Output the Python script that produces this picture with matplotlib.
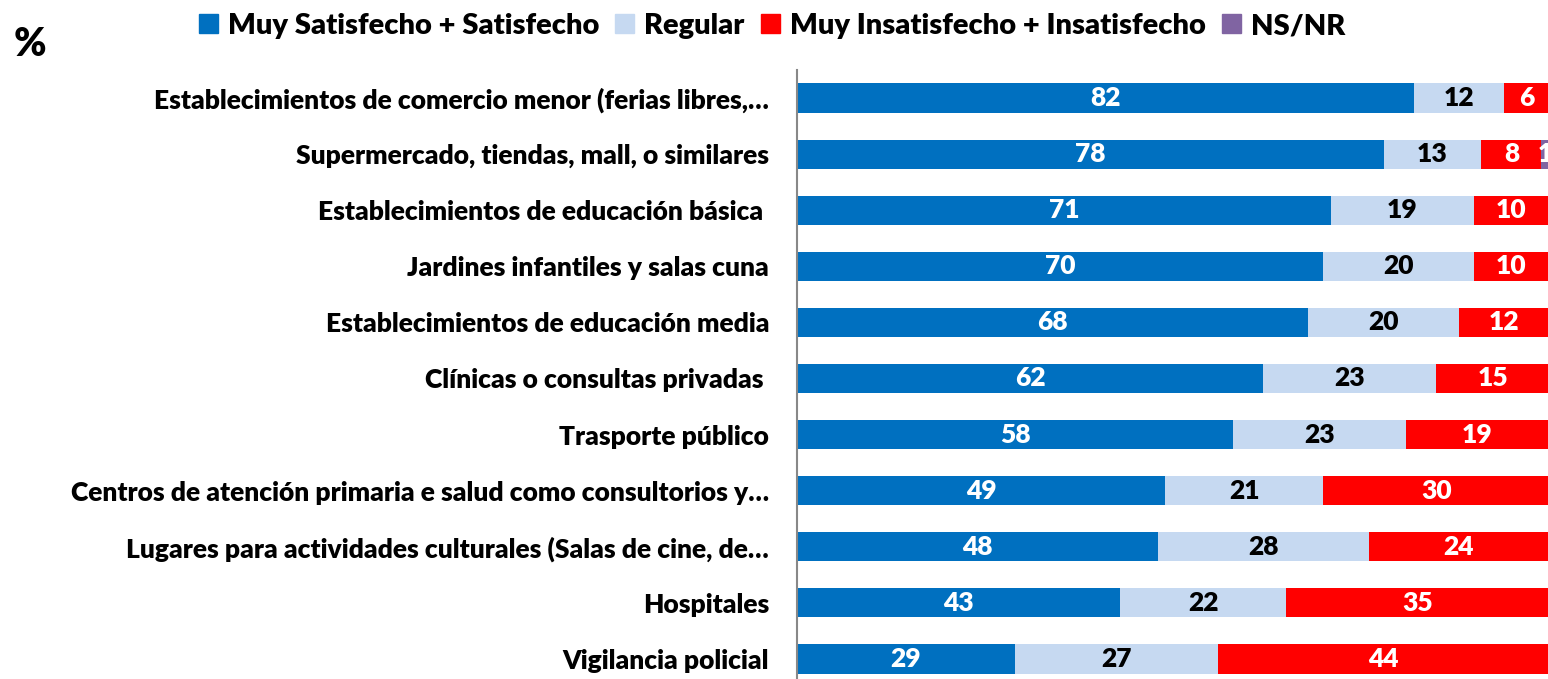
import matplotlib.pyplot as plt
from matplotlib.patches import Patch

plt.rcParams['font.family'] = ['Lato', 'DejaVu Sans']
plt.rcParams['font.weight'] = 'heavy'

categories = [
    'Establecimientos de comercio menor (ferias libres,…',
    'Supermercado, tiendas, mall, o similares',
    'Establecimientos de educación básica ',
    'Jardines infantiles y salas cuna',
    'Establecimientos de educación media',
    'Clínicas o consultas privadas ',
    'Trasporte público',
    'Centros de atención primaria e salud como consultorios y…',
    'Lugares para actividades culturales (Salas de cine, de…',
    'Hospitales',
    'Vigilancia policial',
]
satisfecho = [82, 78, 71, 70, 68, 62, 58, 49, 48, 43, 29]
regular = [12, 13, 19, 20, 20, 23, 23, 21, 28, 22, 27]
insatisfecho = [6, 8, 10, 10, 12, 15, 19, 30, 24, 35, 44]
nsnr = [0, 1, 0, 0, 0, 0, 0, 0, 0, 0, 0]

series = [
    ('Muy Satisfecho + Satisfecho', satisfecho, '#0070C0', 'white'),
    ('Regular', regular, '#C6D9F1', 'black'),
    ('Muy Insatisfecho + Insatisfecho', insatisfecho, '#FF0000', 'white'),
    ('NS/NR', nsnr, '#8064A2', 'white'),
]

fig = plt.figure(figsize=(15.48, 6.79), dpi=100)
ax = fig.add_axes([797 / 1548, -8 / 679, 752 / 1548, 617 / 679])

y = list(range(len(categories)))
left = [0] * len(categories)
for name, vals, color, tcolor in series:
    ax.barh(y, vals, left=left, height=0.52, color=color, label=name)
    for i, v in enumerate(vals):
        if v > 0:
            ax.text(left[i] + v / 2, i, str(v), ha='center', va='center',
                    color=tcolor, fontsize=19, fontweight='heavy', clip_on=False)
    left = [a + b for a, b in zip(left, vals)]

ax.set_xlim(0, 100)
ax.set_ylim(len(categories) - 0.5, -0.5)
ax.set_yticks(y)
ax.set_yticklabels(categories, fontsize=19, fontweight='heavy')
ax.tick_params(axis='y', length=0, pad=20)
ax.set_xticks([])
for s in ['top', 'right', 'bottom']:
    ax.spines[s].set_visible(False)
ax.spines['left'].set_color('#888888')
ax.spines['left'].set_linewidth(1.5)

handles = [Patch(color=c) for _, _, c, _ in series]
labels = [n for n, _, _, _ in series]
fig.legend(handles, labels, loc='center', bbox_to_anchor=(772 / 1548, 1 - 26 / 679),
           ncol=4, frameon=False, handlelength=0.65, handleheight=0.65,
           handletextpad=0.35, columnspacing=0.55, prop={'weight': 'heavy', 'size': 21})

fig.text(30 / 1548, 1 - 45 / 679, '%', ha='center', va='center', fontsize=28, fontweight='heavy')

fig.savefig('out.png', dpi=100)
